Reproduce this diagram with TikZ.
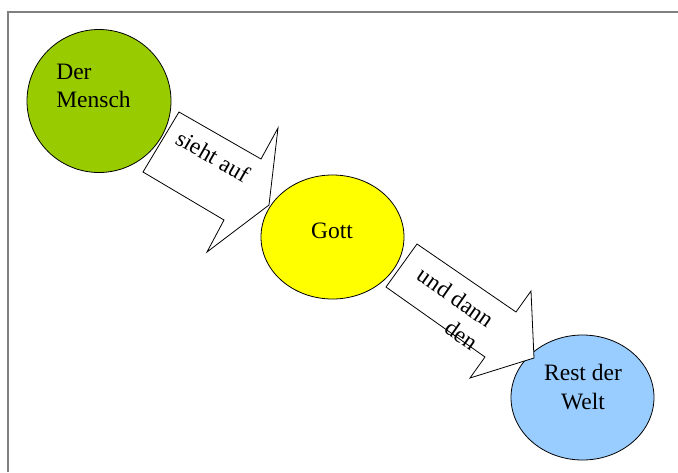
\documentclass[tikz,border=0pt]{standalone}
\usepackage{fontspec}
\setmainfont{Liberation Serif}
\usetikzlibrary{shapes.geometric}
\definecolor{mgreen}{HTML}{99CC00}
\definecolor{myellow}{HTML}{FFFF00}
\definecolor{mblue}{HTML}{99CCFF}
\definecolor{framegray}{HTML}{808080}
\begin{document}
\begin{tikzpicture}[x=1pt,y=-1pt,
  blob/.style={ellipse, draw=black, line width=0.8pt, inner sep=0pt},
  lbl/.style={font=\fontsize{23.5}{28}\selectfont, inner sep=0pt},
  blockarrow/.style={draw=black, fill=white, line width=0.8pt, line join=miter},
  frameline/.style={draw=framegray, line width=1.3pt}]
\useasboundingbox (0,0) rectangle (678,472);
% frame
\coordinate (f1) at (8,472);
\coordinate (f2) at (8,12);
\coordinate (f3) at (678,12);
\draw[frameline] (f1) -- (f2) -- (f3);
% ellipses
\node[blob, fill=mgreen, minimum width=144pt, minimum height=143pt] (mensch) at (99,101) {};
\node[blob, fill=myellow, minimum width=143pt, minimum height=124pt] (gott) at (332.5,237) {};
\node[blob, fill=mblue, minimum width=143pt, minimum height=125pt] (rest) at (582.5,397.5) {};
% arrow 1
\coordinate (a1p1) at (179,112);
\coordinate (a1p2) at (261,159);
\coordinate (a1p3) at (278,128);
\coordinate (a1p4) at (269,205);
\coordinate (a1p5) at (207,252);
\coordinate (a1p6) at (224,220);
\coordinate (a1p7) at (143,172);
\draw[blockarrow] (a1p1) -- (a1p2) -- (a1p3) -- (a1p4) -- (a1p5) -- (a1p6) -- (a1p7) -- cycle;
% arrow 2
\coordinate (a2p1) at (417,244);
\coordinate (a2p2) at (516,312);
\coordinate (a2p3) at (531,291);
\coordinate (a2p4) at (534,358);
\coordinate (a2p5) at (470,378);
\coordinate (a2p6) at (485,357);
\coordinate (a2p7) at (386,287);
\draw[blockarrow] (a2p1) -- (a2p2) -- (a2p3) -- (a2p4) -- (a2p5) -- (a2p6) -- (a2p7) -- cycle;
% labels
\node[lbl, align=left] (tmensch) at (93.5,86) {Der\\Mensch};
\node[lbl] (tgott) at (332,231) {Gott};
\node[lbl, align=center, font=\fontsize{23.5}{29.5}\selectfont] (trest) at (583,387) {Rest der\\Welt};
\node[lbl, rotate=-30] (tsieht) at (213,156) {sieht auf};
\node[lbl, rotate=-35, align=right] (tund) at (448,308.5) {und dann\\den};
\end{tikzpicture}
\end{document}
